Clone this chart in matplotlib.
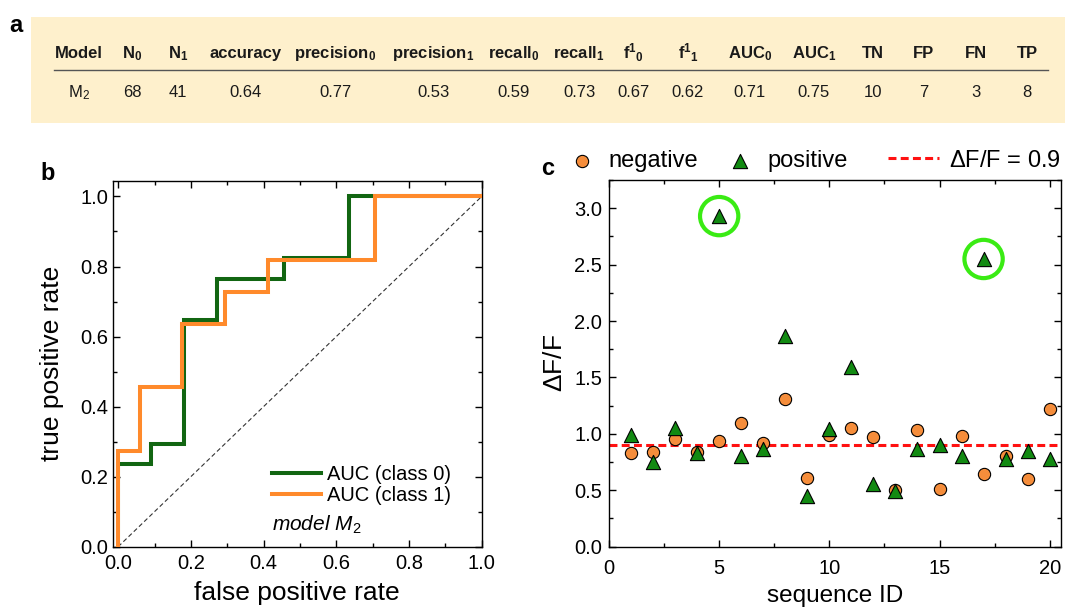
import matplotlib
matplotlib.use("Agg")
import matplotlib.pyplot as plt
from matplotlib.patches import Rectangle
from matplotlib.ticker import MultipleLocator, FormatStrFormatter

plt.rcParams.update({
    "font.family": ["Liberation Sans", "DejaVu Sans"],
    "mathtext.fontset": "custom",
    "mathtext.rm": "Liberation Sans",
    "mathtext.it": "Liberation Sans:italic",
    "mathtext.bf": "Liberation Sans:bold",
    "mathtext.sf": "Liberation Sans",
    "axes.linewidth": 1.0,
})

# ---- (a) summary table -------------------------------------------------
table_headers = ["Model", r"$\mathbf{N_0}$", r"$\mathbf{N_1}$", "accuracy",
                 r"$\mathbf{precision_0}$", r"$\mathbf{precision_1}$",
                 r"$\mathbf{recall_0}$", r"$\mathbf{recall_1}$",
                 r"$\mathbf{f^{1}{}_{0}}$", r"$\mathbf{f^{1}{}_{1}}$",
                 r"$\mathbf{AUC_0}$", r"$\mathbf{AUC_1}$",
                 "TN", "FP", "FN", "TP"]
table_values = [r"$\mathrm{M_2}$", "68", "41", "0.64", "0.77", "0.53", "0.59",
                "0.73", "0.67", "0.62", "0.71", "0.75", "10", "7", "3", "8"]

# ---- (b) ROC curves (corner points, step after) -------------------------
fpr_class0 = [0.0, 0.0, 0.091, 0.182, 0.273, 0.455, 0.636, 1.0]
tpr_class0 = [0.0, 0.235, 0.294, 0.647, 0.765, 0.824, 1.0, 1.0]
fpr_class1 = [0.0, 0.0, 0.059, 0.176, 0.294, 0.412, 0.706, 1.0]
tpr_class1 = [0.0, 0.273, 0.455, 0.636, 0.727, 0.818, 1.0, 1.0]

# ---- (c) response per sequence ------------------------------------------
sequence_id = list(range(1, 21))
dff_negative = [0.83, 0.84, 0.955, 0.84, 0.94, 1.10, 0.915, 1.31, 0.605, 0.99,
                1.055, 0.97, 0.505, 1.03, 0.51, 0.98, 0.645, 0.80, 0.60, 1.22]
dff_positive = [0.99, 0.75, 1.055, 0.83, 2.93, 0.80, 0.87, 1.87, 0.45, 1.045,
                1.59, 0.555, 0.49, 0.865, 0.905, 0.80, 2.55, 0.78, 0.85, 0.78]
dff_threshold = 0.9
highlighted_ids = [5, 17]

W, H = 1067, 608
fig = plt.figure(figsize=(W / 100, H / 100), dpi=100)

# background canvas in pixel units for the table and panel letters
bg = fig.add_axes([0, 0, 1, 1], zorder=-5)
bg.set_xlim(0, W)
bg.set_ylim(H, 0)
bg.axis("off")

bg.add_patch(Rectangle((30.7, 17.3), 1034, 105.7, facecolor="#FEF0CC",
                       edgecolor="none"))
col_x = [79, 132.5, 178, 246, 335, 433, 514, 579, 633, 688, 750, 814,
         873, 924, 976, 1027]
for x, head, val in zip(col_x, table_headers, table_values):
    bg.text(x, 58.3, head, ha="center", va="baseline", fontsize=12,
            fontweight="bold", color="#1a1a1a")
    bg.text(x, 97.3, val, ha="center", va="baseline", fontsize=12,
            color="#1a1a1a")
bg.plot([54, 1047.7], [70, 70], color="#555555", lw=1.0)

for letter, x, y in [("a", 9, 31.7), ("b", 40, 180), ("c", 541, 175)]:
    bg.text(x, y, letter, ha="left", va="baseline", fontsize=17,
            fontweight="bold", color="black")


def style_axes(ax):
    ax.tick_params(which="both", direction="in", top=True, right=True,
                   width=1.0, labelsize=14.5, colors="black")
    ax.tick_params(which="major", length=5)
    ax.tick_params(which="minor", length=3)
    for s in ax.spines.values():
        s.set_linewidth(1.0)


# ---- panel b ------------------------------------------------------------
axb = fig.add_axes([112.7 / W, 1 - 546.7 / H, 369 / W, 366 / H])
axb.plot([0, 1], [0, 1], color="#333333", lw=0.8, dashes=(4, 2.5), zorder=1)
axb.plot(fpr_class0, tpr_class0, drawstyle="steps-post", color="#126612",
         lw=2.9, label="AUC (class 0)", zorder=2, solid_joinstyle="miter")
axb.plot(fpr_class1, tpr_class1, drawstyle="steps-post", color="#FF8A2B",
         lw=2.9, label="AUC (class 1)", zorder=3, solid_joinstyle="miter")
axb.set_xlim(-0.015, 1.0)
axb.set_ylim(0, 1.045)
axb.xaxis.set_major_locator(MultipleLocator(0.2))
axb.xaxis.set_minor_locator(MultipleLocator(0.1))
axb.yaxis.set_major_locator(MultipleLocator(0.2))
axb.yaxis.set_minor_locator(MultipleLocator(0.1))
axb.xaxis.set_major_formatter(FormatStrFormatter("%.1f"))
axb.yaxis.set_major_formatter(FormatStrFormatter("%.1f"))
style_axes(axb)
axb.tick_params(axis="x", pad=5)
axb.tick_params(axis="y", pad=3)
axb.set_xlabel("false positive rate", fontsize=19, labelpad=6)
axb.set_ylabel("true positive rate", fontsize=19, labelpad=12)
axb.legend(loc="lower left", bbox_to_anchor=(0.4325, 0.114), frameon=False,
           fontsize=14.5, handlelength=2.44, handletextpad=0.3,
           labelspacing=0.1, borderpad=0, borderaxespad=0)
axb.text(0.4325, 0.043, r"$\mathit{model\ M_2}$", transform=axb.transAxes,
         fontsize=15, ha="left", va="baseline")

# ---- panel c ------------------------------------------------------------
axc = fig.add_axes([609 / W, 1 - 546.7 / H, 451.7 / W, 366.7 / H])
thr = axc.axhline(dff_threshold, color="#FF1111", lw=2.2, dashes=(2.6, 1.4),
                  zorder=1, label=r"$\Delta$F/F = 0.9")
neg = axc.scatter(sequence_id, dff_negative, s=78, marker="o",
                  facecolor="#F58D3B", edgecolor="black", linewidths=0.8,
                  zorder=3, label="negative")
pos = axc.scatter(sequence_id, dff_positive, s=105, marker="^",
                  facecolor="#128A12", edgecolor="black", linewidths=0.8,
                  zorder=4, label="positive")
hl_y = [dff_positive[sequence_id.index(i)] for i in highlighted_ids]
axc.scatter(highlighted_ids, hl_y, s=760, marker="o", facecolor="none",
            edgecolor="#3AEB14", linewidths=3.0, zorder=5)
axc.set_xlim(0, 20.5)
axc.set_ylim(0, 3.25)
axc.xaxis.set_major_locator(MultipleLocator(5))
axc.xaxis.set_minor_locator(MultipleLocator(2.5))
axc.yaxis.set_major_locator(MultipleLocator(0.5))
axc.yaxis.set_minor_locator(MultipleLocator(0.25))
axc.yaxis.set_major_formatter(FormatStrFormatter("%.1f"))
style_axes(axc)
axc.tick_params(axis="x", pad=9)
axc.tick_params(axis="y", pad=5)
axc.set_xlabel("sequence ID", fontsize=17.5, labelpad=5)
axc.set_ylabel(r"$\Delta$F/F", fontsize=19, labelpad=5)

leg1 = axc.legend(handles=[neg, pos], loc="center left", ncol=2,
                  bbox_to_anchor=(570.2, 160.7), bbox_transform=bg.transData,
                  frameon=False, fontsize=17, handlelength=1.0,
                  handletextpad=0.64, columnspacing=1.27, borderpad=0,
                  borderaxespad=0, scatterpoints=1)
axc.add_artist(leg1)
axc.legend(handles=[thr], loc="center left",
           bbox_to_anchor=(888, 160.7), bbox_transform=bg.transData,
           frameon=False, fontsize=17, handlelength=2.16, handletextpad=0.42,
           borderpad=0, borderaxespad=0)

fig.savefig("out.png", dpi=100)
